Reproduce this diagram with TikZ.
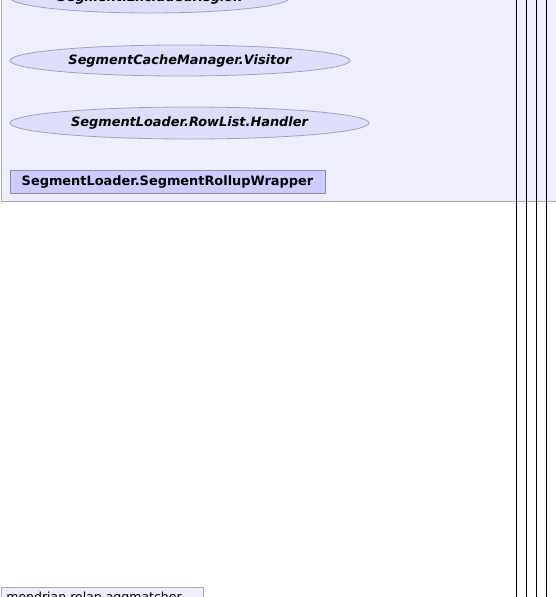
\documentclass[tikz,border=0pt]{standalone}
\usepackage{fontspec}
\setmainfont{DejaVu Sans}
\usepackage{tikz}
\usetikzlibrary{positioning, calc}
\usetikzlibrary{shapes.geometric}

\begin{document}
\begin{tikzpicture}[x=1pt, y=-1pt, font=\fontsize{12.9}{15}\selectfont, align=center, line width=0.8pt,
    classnode/.style={draw=boxborder, fill=boxfill, rectangle, inner sep=0pt, font=\fontsize{12.9}{15}\selectfont\bfseries},
    ifacenode/.style={draw=ovalborder, fill=ovalfill, ellipse, inner sep=0pt, font=\fontsize{12.9}{15}\selectfont\bfseries\itshape},
    packnode/.style={draw=packborder, fill=packfill, rectangle, inner sep=0pt, anchor=north west, font=\fontsize{12.5}{15}\selectfont}]
        % Define colors
        \definecolor{packfill}{RGB}{238,238,255}
        \definecolor{packborder}{RGB}{170,170,178}
        \definecolor{ovalfill}{RGB}{221,221,252}
        \definecolor{ovalborder}{RGB}{160,160,190}
        \definecolor{boxfill}{RGB}{204,204,255}
        \definecolor{boxborder}{RGB}{140,140,180}

        \useasboundingbox (0,0) rectangle (555,597);

        % Package
        \node[packnode, minimum width=575pt, minimum height=221pt] (segmentpack) at (0.5,-20) {};

        % Nodes
        \node[ifacenode, minimum width=280pt, minimum height=31pt] (excluded) at (150,-2.5) {Segment.ExcludedRegion};
        \node[ifacenode, minimum width=340pt, minimum height=31pt] (visitor) at (180,60.5) {SegmentCacheManager.Visitor};
        \node[ifacenode, minimum width=359pt, minimum height=32pt] (handler) at (189.5,123) {SegmentLoader.RowList.Handler};
        \node[classnode, minimum width=315pt, minimum height=23pt] (rollup) at (167.5,181.5) {SegmentLoader.SegmentRollupWrapper};

        \node[packnode, minimum width=201.5pt, minimum height=22pt, text width=191pt, inner xsep=5.5pt, align=left] (aggmatcher) at (0.5,587) {mondrian.rolap.aggmatcher};

        % Edges
        \foreach \i in {516,526,536,546} {
            \coordinate (top\i) at (\i,-10);
            \coordinate (bot\i) at (\i,610);
            \draw[line width=1pt] (top\i) -- (bot\i);
        }
    \end{tikzpicture}
\end{document}
